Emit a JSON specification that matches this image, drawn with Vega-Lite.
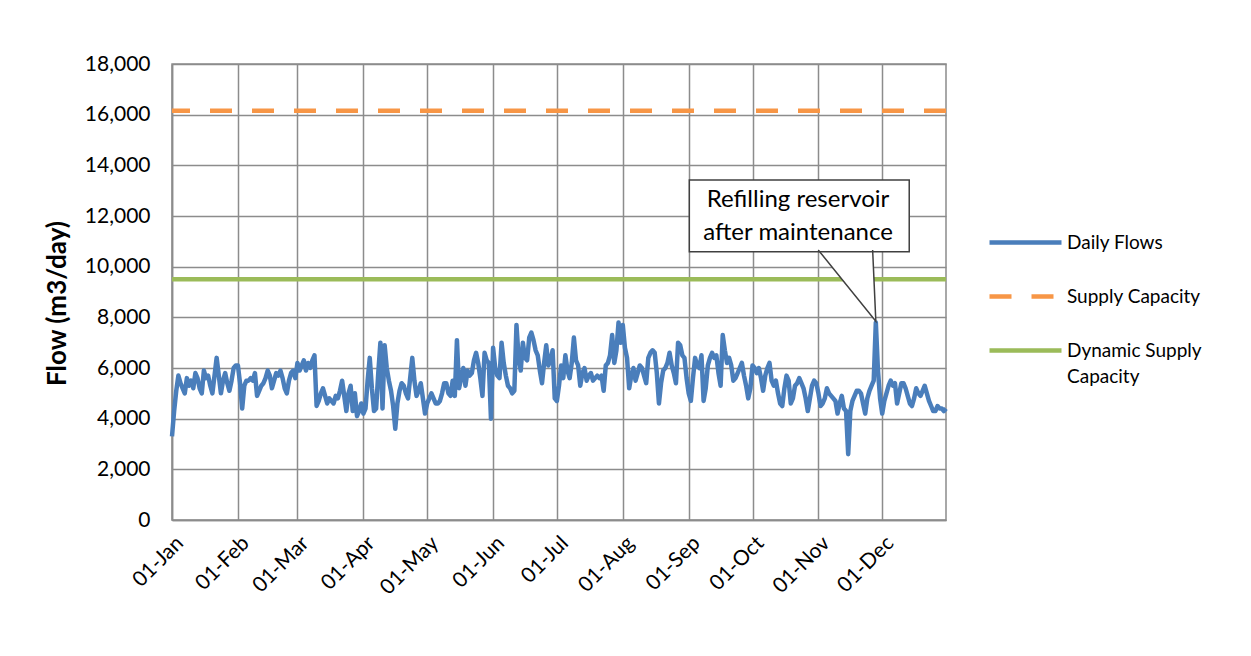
{
  "$schema": "https://vega.github.io/schema/vega-lite/v6.json",
  "width": 774,
  "height": 456,
  "autosize": {"type": "none"},
  "padding": {"left": 172, "top": 64, "right": 305, "bottom": 136},
  "background": "white",
  "config": {
    "font": "Lato",
    "view": {"stroke": "#8c8c8c", "strokeWidth": 1.5},
    "axis": {
      "gridColor": "#8c8c8c", "gridWidth": 1.5, "gridOpacity": 1,
      "domainColor": "#8c8c8c", "domainWidth": 1.5,
      "ticks": false,
      "labelFont": "Lato", "labelFontSize": 21, "labelColor": "#000000",
      "titleColor": "#000000", "titleFont": "Lato"
    }
  },
  "datasets": {
    "flows": [
{"d":"2021-01-01","f":3300},{"d":"2021-01-02","f":4300},{"d":"2021-01-03","f":5100},{"d":"2021-01-04","f":5700},{"d":"2021-01-05","f":5400},{"d":"2021-01-06","f":5200},{"d":"2021-01-07","f":5000},{"d":"2021-01-08","f":5600},{"d":"2021-01-09","f":5300},{"d":"2021-01-10","f":5500},{"d":"2021-01-11","f":5200},{"d":"2021-01-12","f":5800},{"d":"2021-01-13","f":5600},{"d":"2021-01-14","f":5200},{"d":"2021-01-15","f":5000},{"d":"2021-01-16","f":5900},{"d":"2021-01-17","f":5600},{"d":"2021-01-18","f":5700},{"d":"2021-01-19","f":5300},{"d":"2021-01-20","f":5000},{"d":"2021-01-21","f":5700},{"d":"2021-01-22","f":6400},{"d":"2021-01-23","f":5700},{"d":"2021-01-24","f":5000},{"d":"2021-01-25","f":5500},{"d":"2021-01-26","f":5800},{"d":"2021-01-27","f":5400},{"d":"2021-01-28","f":5100},{"d":"2021-01-29","f":5500},{"d":"2021-01-30","f":6000},{"d":"2021-01-31","f":6100},
{"d":"2021-02-01","f":6100},{"d":"2021-02-02","f":5400},{"d":"2021-02-03","f":4400},{"d":"2021-02-04","f":5300},{"d":"2021-02-05","f":5500},{"d":"2021-02-06","f":5500},{"d":"2021-02-07","f":5600},{"d":"2021-02-08","f":5500},{"d":"2021-02-09","f":5800},{"d":"2021-02-10","f":4900},{"d":"2021-02-11","f":5100},{"d":"2021-02-12","f":5300},{"d":"2021-02-13","f":5400},{"d":"2021-02-14","f":5600},{"d":"2021-02-15","f":5900},{"d":"2021-02-16","f":5700},{"d":"2021-02-17","f":5200},{"d":"2021-02-18","f":5500},{"d":"2021-02-19","f":5800},{"d":"2021-02-20","f":5700},{"d":"2021-02-21","f":5900},{"d":"2021-02-22","f":5600},{"d":"2021-02-23","f":5200},{"d":"2021-02-24","f":5000},{"d":"2021-02-25","f":5500},{"d":"2021-02-26","f":5800},{"d":"2021-02-27","f":5900},{"d":"2021-02-28","f":5600},
{"d":"2021-03-01","f":6200},{"d":"2021-03-02","f":5900},{"d":"2021-03-03","f":6100},{"d":"2021-03-04","f":6300},{"d":"2021-03-05","f":5900},{"d":"2021-03-06","f":6200},{"d":"2021-03-07","f":6000},{"d":"2021-03-08","f":6300},{"d":"2021-03-09","f":6500},{"d":"2021-03-10","f":4500},{"d":"2021-03-11","f":4700},{"d":"2021-03-12","f":5000},{"d":"2021-03-13","f":5200},{"d":"2021-03-14","f":4900},{"d":"2021-03-15","f":4600},{"d":"2021-03-16","f":4800},{"d":"2021-03-17","f":4700},{"d":"2021-03-18","f":4600},{"d":"2021-03-19","f":4900},{"d":"2021-03-20","f":4800},{"d":"2021-03-21","f":5100},{"d":"2021-03-22","f":5500},{"d":"2021-03-23","f":4900},{"d":"2021-03-24","f":4300},{"d":"2021-03-25","f":5000},{"d":"2021-03-26","f":5300},{"d":"2021-03-27","f":4300},{"d":"2021-03-28","f":5000},{"d":"2021-03-29","f":4100},{"d":"2021-03-30","f":4300},{"d":"2021-03-31","f":4600},
{"d":"2021-04-01","f":4200},{"d":"2021-04-02","f":4400},{"d":"2021-04-03","f":5500},{"d":"2021-04-04","f":6400},{"d":"2021-04-05","f":5200},{"d":"2021-04-06","f":4300},{"d":"2021-04-07","f":4400},{"d":"2021-04-08","f":5800},{"d":"2021-04-09","f":7000},{"d":"2021-04-10","f":4400},{"d":"2021-04-11","f":6900},{"d":"2021-04-12","f":6000},{"d":"2021-04-13","f":5500},{"d":"2021-04-14","f":5100},{"d":"2021-04-15","f":4500},{"d":"2021-04-16","f":3600},{"d":"2021-04-17","f":4600},{"d":"2021-04-18","f":5100},{"d":"2021-04-19","f":5400},{"d":"2021-04-20","f":5300},{"d":"2021-04-21","f":5000},{"d":"2021-04-22","f":4800},{"d":"2021-04-23","f":5600},{"d":"2021-04-24","f":6400},{"d":"2021-04-25","f":5500},{"d":"2021-04-26","f":4900},{"d":"2021-04-27","f":5100},{"d":"2021-04-28","f":5400},{"d":"2021-04-29","f":4800},{"d":"2021-04-30","f":4200},
{"d":"2021-05-01","f":4600},{"d":"2021-05-02","f":4800},{"d":"2021-05-03","f":5000},{"d":"2021-05-04","f":4800},{"d":"2021-05-05","f":4600},{"d":"2021-05-06","f":4600},{"d":"2021-05-07","f":4700},{"d":"2021-05-08","f":5000},{"d":"2021-05-09","f":5400},{"d":"2021-05-10","f":5400},{"d":"2021-05-11","f":5000},{"d":"2021-05-12","f":4900},{"d":"2021-05-13","f":5500},{"d":"2021-05-14","f":4900},{"d":"2021-05-15","f":7100},{"d":"2021-05-16","f":5200},{"d":"2021-05-17","f":5600},{"d":"2021-05-18","f":6000},{"d":"2021-05-19","f":5300},{"d":"2021-05-20","f":5900},{"d":"2021-05-21","f":5700},{"d":"2021-05-22","f":5800},{"d":"2021-05-23","f":6300},{"d":"2021-05-24","f":6600},{"d":"2021-05-25","f":6200},{"d":"2021-05-26","f":5600},{"d":"2021-05-27","f":4900},{"d":"2021-05-28","f":6600},{"d":"2021-05-29","f":6300},{"d":"2021-05-30","f":6200},{"d":"2021-05-31","f":4000},
{"d":"2021-06-01","f":6800},{"d":"2021-06-02","f":6000},{"d":"2021-06-03","f":5700},{"d":"2021-06-04","f":5600},{"d":"2021-06-05","f":7000},{"d":"2021-06-06","f":6200},{"d":"2021-06-07","f":5700},{"d":"2021-06-08","f":5300},{"d":"2021-06-09","f":5200},{"d":"2021-06-10","f":5000},{"d":"2021-06-11","f":5100},{"d":"2021-06-12","f":7700},{"d":"2021-06-13","f":6400},{"d":"2021-06-14","f":5900},{"d":"2021-06-15","f":7000},{"d":"2021-06-16","f":6400},{"d":"2021-06-17","f":6300},{"d":"2021-06-18","f":7200},{"d":"2021-06-19","f":7400},{"d":"2021-06-20","f":7100},{"d":"2021-06-21","f":6700},{"d":"2021-06-22","f":6500},{"d":"2021-06-23","f":5900},{"d":"2021-06-24","f":5400},{"d":"2021-06-25","f":6200},{"d":"2021-06-26","f":6900},{"d":"2021-06-27","f":6100},{"d":"2021-06-28","f":6300},{"d":"2021-06-29","f":6700},{"d":"2021-06-30","f":4800},
{"d":"2021-07-01","f":4700},{"d":"2021-07-02","f":5300},{"d":"2021-07-03","f":6100},{"d":"2021-07-04","f":5600},{"d":"2021-07-05","f":6500},{"d":"2021-07-06","f":5900},{"d":"2021-07-07","f":5600},{"d":"2021-07-08","f":6200},{"d":"2021-07-09","f":7200},{"d":"2021-07-10","f":6300},{"d":"2021-07-11","f":6100},{"d":"2021-07-12","f":5300},{"d":"2021-07-13","f":5800},{"d":"2021-07-14","f":6000},{"d":"2021-07-15","f":5500},{"d":"2021-07-16","f":5700},{"d":"2021-07-17","f":5800},{"d":"2021-07-18","f":5500},{"d":"2021-07-19","f":5600},{"d":"2021-07-20","f":5700},{"d":"2021-07-21","f":5600},{"d":"2021-07-22","f":5700},{"d":"2021-07-23","f":5100},{"d":"2021-07-24","f":6100},{"d":"2021-07-25","f":6200},{"d":"2021-07-26","f":6500},{"d":"2021-07-27","f":7300},{"d":"2021-07-28","f":6200},{"d":"2021-07-29","f":6700},{"d":"2021-07-30","f":7800},{"d":"2021-07-31","f":7000},
{"d":"2021-08-01","f":7700},{"d":"2021-08-02","f":6800},{"d":"2021-08-03","f":6400},{"d":"2021-08-04","f":5200},{"d":"2021-08-05","f":5700},{"d":"2021-08-06","f":6000},{"d":"2021-08-07","f":5500},{"d":"2021-08-08","f":5800},{"d":"2021-08-09","f":6100},{"d":"2021-08-10","f":6000},{"d":"2021-08-11","f":5700},{"d":"2021-08-12","f":5400},{"d":"2021-08-13","f":6400},{"d":"2021-08-14","f":6600},{"d":"2021-08-15","f":6700},{"d":"2021-08-16","f":6600},{"d":"2021-08-17","f":5800},{"d":"2021-08-18","f":4600},{"d":"2021-08-19","f":5400},{"d":"2021-08-20","f":5900},{"d":"2021-08-21","f":6000},{"d":"2021-08-22","f":6200},{"d":"2021-08-23","f":6600},{"d":"2021-08-24","f":6100},{"d":"2021-08-25","f":5800},{"d":"2021-08-26","f":5400},{"d":"2021-08-27","f":7000},{"d":"2021-08-28","f":6900},{"d":"2021-08-29","f":6500},{"d":"2021-08-30","f":6400},{"d":"2021-08-31","f":5600},
{"d":"2021-09-01","f":5000},{"d":"2021-09-02","f":4700},{"d":"2021-09-03","f":5600},{"d":"2021-09-04","f":6400},{"d":"2021-09-05","f":6100},{"d":"2021-09-06","f":6000},{"d":"2021-09-07","f":6500},{"d":"2021-09-08","f":4700},{"d":"2021-09-09","f":5200},{"d":"2021-09-10","f":6100},{"d":"2021-09-11","f":6400},{"d":"2021-09-12","f":6600},{"d":"2021-09-13","f":6400},{"d":"2021-09-14","f":6500},{"d":"2021-09-15","f":5800},{"d":"2021-09-16","f":5300},{"d":"2021-09-17","f":7300},{"d":"2021-09-18","f":6700},{"d":"2021-09-19","f":6200},{"d":"2021-09-20","f":6400},{"d":"2021-09-21","f":6100},{"d":"2021-09-22","f":5500},{"d":"2021-09-23","f":5600},{"d":"2021-09-24","f":5800},{"d":"2021-09-25","f":6000},{"d":"2021-09-26","f":6200},{"d":"2021-09-27","f":5700},{"d":"2021-09-28","f":5300},{"d":"2021-09-29","f":4800},{"d":"2021-09-30","f":5200},
{"d":"2021-10-01","f":6100},{"d":"2021-10-02","f":6000},{"d":"2021-10-03","f":5800},{"d":"2021-10-04","f":6000},{"d":"2021-10-05","f":5600},{"d":"2021-10-06","f":5100},{"d":"2021-10-07","f":5700},{"d":"2021-10-08","f":6000},{"d":"2021-10-09","f":6200},{"d":"2021-10-10","f":5500},{"d":"2021-10-11","f":5300},{"d":"2021-10-12","f":5500},{"d":"2021-10-13","f":5000},{"d":"2021-10-14","f":4600},{"d":"2021-10-15","f":4500},{"d":"2021-10-16","f":5200},{"d":"2021-10-17","f":5700},{"d":"2021-10-18","f":5500},{"d":"2021-10-19","f":4600},{"d":"2021-10-20","f":4800},{"d":"2021-10-21","f":5300},{"d":"2021-10-22","f":5400},{"d":"2021-10-23","f":5600},{"d":"2021-10-24","f":5400},{"d":"2021-10-25","f":5200},{"d":"2021-10-26","f":4800},{"d":"2021-10-27","f":4300},{"d":"2021-10-28","f":4800},{"d":"2021-10-29","f":5300},{"d":"2021-10-30","f":5500},{"d":"2021-10-31","f":5400},
{"d":"2021-11-01","f":5000},{"d":"2021-11-02","f":4500},{"d":"2021-11-03","f":4600},{"d":"2021-11-04","f":4800},{"d":"2021-11-05","f":5200},{"d":"2021-11-06","f":5000},{"d":"2021-11-07","f":4900},{"d":"2021-11-08","f":4800},{"d":"2021-11-09","f":4700},{"d":"2021-11-10","f":4200},{"d":"2021-11-11","f":4600},{"d":"2021-11-12","f":4900},{"d":"2021-11-13","f":4400},{"d":"2021-11-14","f":4300},{"d":"2021-11-15","f":2600},{"d":"2021-11-16","f":4300},{"d":"2021-11-17","f":4700},{"d":"2021-11-18","f":4900},{"d":"2021-11-19","f":5100},{"d":"2021-11-20","f":5100},{"d":"2021-11-21","f":5000},{"d":"2021-11-22","f":4600},{"d":"2021-11-23","f":4200},{"d":"2021-11-24","f":4800},{"d":"2021-11-25","f":5100},{"d":"2021-11-26","f":5300},{"d":"2021-11-27","f":5500},{"d":"2021-11-28","f":7800},{"d":"2021-11-29","f":5900},{"d":"2021-11-30","f":4800},
{"d":"2021-12-01","f":4200},{"d":"2021-12-02","f":4700},{"d":"2021-12-03","f":5000},{"d":"2021-12-04","f":5300},{"d":"2021-12-05","f":5500},{"d":"2021-12-06","f":5300},{"d":"2021-12-07","f":5400},{"d":"2021-12-08","f":4600},{"d":"2021-12-09","f":5000},{"d":"2021-12-10","f":5400},{"d":"2021-12-11","f":5400},{"d":"2021-12-12","f":5200},{"d":"2021-12-13","f":4900},{"d":"2021-12-14","f":4600},{"d":"2021-12-15","f":4500},{"d":"2021-12-16","f":4800},{"d":"2021-12-17","f":5200},{"d":"2021-12-18","f":5000},{"d":"2021-12-19","f":4900},{"d":"2021-12-20","f":5100},{"d":"2021-12-21","f":5300},{"d":"2021-12-22","f":5000},{"d":"2021-12-23","f":4700},{"d":"2021-12-24","f":4500},{"d":"2021-12-25","f":4300},{"d":"2021-12-26","f":4300},{"d":"2021-12-27","f":4500},{"d":"2021-12-28","f":4400},{"d":"2021-12-29","f":4400},{"d":"2021-12-30","f":4300},{"d":"2021-12-31","f":4400}
    ],
    "capacity": [
      {"series": "Supply Capacity", "f": 16150},
      {"series": "Dynamic Supply Capacity", "f": 9500}
    ],
    "box": [
      {"d": "2021-09-01T07:00:00Z", "d2": "2021-12-13T17:00:00Z", "f": 10591, "f2": 13421}
    ],
    "pointerFill": [
      {"d": "2021-10-31T22:00:00Z", "f": 10660, "f2": 10660},
      {"d": "2021-11-26T12:00:00Z", "f": 10660, "f2": 8010},
      {"d": "2021-11-28T00:00:00Z", "f": 7850, "f2": 7850}
    ],
    "pointer": [
      {"d": "2021-10-31T22:00:00Z", "f": 10660, "o": 1},
      {"d": "2021-11-28T00:00:00Z", "f": 7850, "o": 2},
      {"d": "2021-11-26T12:00:00Z", "f": 10660, "o": 3}
    ],
    "note": [
      {"d": "2021-10-22T10:00:00Z", "f": 12620, "t": "Refilling reservoir\nafter maintenance"}
    ]
  },
  "encoding": {
    "x": {
      "field": "d", "type": "temporal",
      "scale": {"type": "utc", "domain": [{"year": 2021, "month": 1, "date": 1, "utc": true}, {"year": 2021, "month": 12, "date": 31, "utc": true}]},
      "axis": {"format": "%d-%b", "tickCount": {"interval": "month", "step": 1}, "labelAngle": -45, "labelFontSize": 21, "labelOverlap": false, "labelPadding": 12, "title": null, "grid": true}
    },
    "y": {
      "field": "f", "type": "quantitative",
      "scale": {"domain": [0, 18000]},
      "axis": {"values": [0, 2000, 4000, 6000, 8000, 10000, 12000, 14000, 16000, 18000], "format": ",.0f", "title": "Flow (m3/day)", "titleFontSize": 26, "titleFontWeight": "bold", "titlePadding": 14, "titleY": 239, "labelPadding": 22}
    }
  },
  "layer": [
    {
      "data": {"name": "capacity"},
      "mark": {"type": "rule", "strokeWidth": 4.5},
      "encoding": {
        "x": null,
        "color": {
          "field": "series", "type": "nominal",
          "scale": {"domain": ["Daily Flows", "Supply Capacity", "Dynamic Supply Capacity"], "range": ["#4a7ebb", "#f79646", "#9bbb59"]},
          "legend": {
            "orient": "none", "legendX": 815, "legendY": 140,
            "title": null, "padding": 0,
            "symbolType": "stroke", "symbolSize": 5184, "symbolStrokeWidth": 4.5,
            "labelFont": "Lato", "labelFontSize": 19, "labelColor": "#000000", "labelLimit": 300, "labelOffset": 3,
            "rowPadding": 5,
            "labelExpr": "datum.label == 'Dynamic Supply Capacity' ? ['Dynamic Supply', 'Capacity'] : datum.label",
            "encode": {
              "symbols": {"update": {"strokeDash": {"signal": "datum.value === 'Supply Capacity' ? [22, 20] : [1, 0]"}}},
              "labels": {"update": {"lineHeight": {"value": 26}}}
            }
          }
        },
        "strokeDash": {"field": "series", "type": "nominal", "scale": {"domain": ["Supply Capacity", "Dynamic Supply Capacity"], "range": [[22, 20], [1, 0]]}, "legend": null}
      }
    },
    {
      "data": {"name": "pointerFill"},
      "mark": {"type": "area", "fill": "white", "opacity": 1},
      "encoding": {
        "y2": {"field": "f2"}
      }
    },
    {
      "data": {"name": "flows"},
      "mark": {"type": "line", "strokeWidth": 4.5, "strokeJoin": "round"},
      "encoding": {
        "color": {
          "datum": "Daily Flows",
          "legend": {
            "orient": "none", "legendX": 815, "legendY": 140,
            "title": null, "padding": 0,
            "symbolType": "stroke", "symbolSize": 5184, "symbolStrokeWidth": 4.5,
            "labelFont": "Lato", "labelFontSize": 19, "labelColor": "#000000", "labelLimit": 300, "labelOffset": 3,
            "rowPadding": 5,
            "labelExpr": "datum.label == 'Dynamic Supply Capacity' ? ['Dynamic Supply', 'Capacity'] : datum.label",
            "encode": {
              "symbols": {"update": {"strokeDash": {"signal": "datum.value === 'Supply Capacity' ? [22, 20] : [1, 0]"}}},
              "labels": {"update": {"lineHeight": {"value": 26}}}
            }
          }
        }
      }
    },
    {
      "data": {"name": "box"},
      "mark": {"type": "rect", "fill": "white", "stroke": "#404040", "strokeWidth": 1.5},
      "encoding": {
        "x2": {"field": "d2"},
        "y2": {"field": "f2"}
      }
    },
    {
      "data": {"name": "pointer"},
      "mark": {"type": "line", "stroke": "#404040", "strokeWidth": 1.5},
      "encoding": {
        "order": {"field": "o", "type": "quantitative"}
      }
    },
    {
      "data": {"name": "note"},
      "mark": {"type": "text", "font": "Lato", "fontSize": 24, "lineHeight": 33, "lineBreak": "\n", "align": "center", "baseline": "middle", "color": "#000000"},
      "encoding": {
        "text": {"field": "t"}
      }
    }
  ]
}
